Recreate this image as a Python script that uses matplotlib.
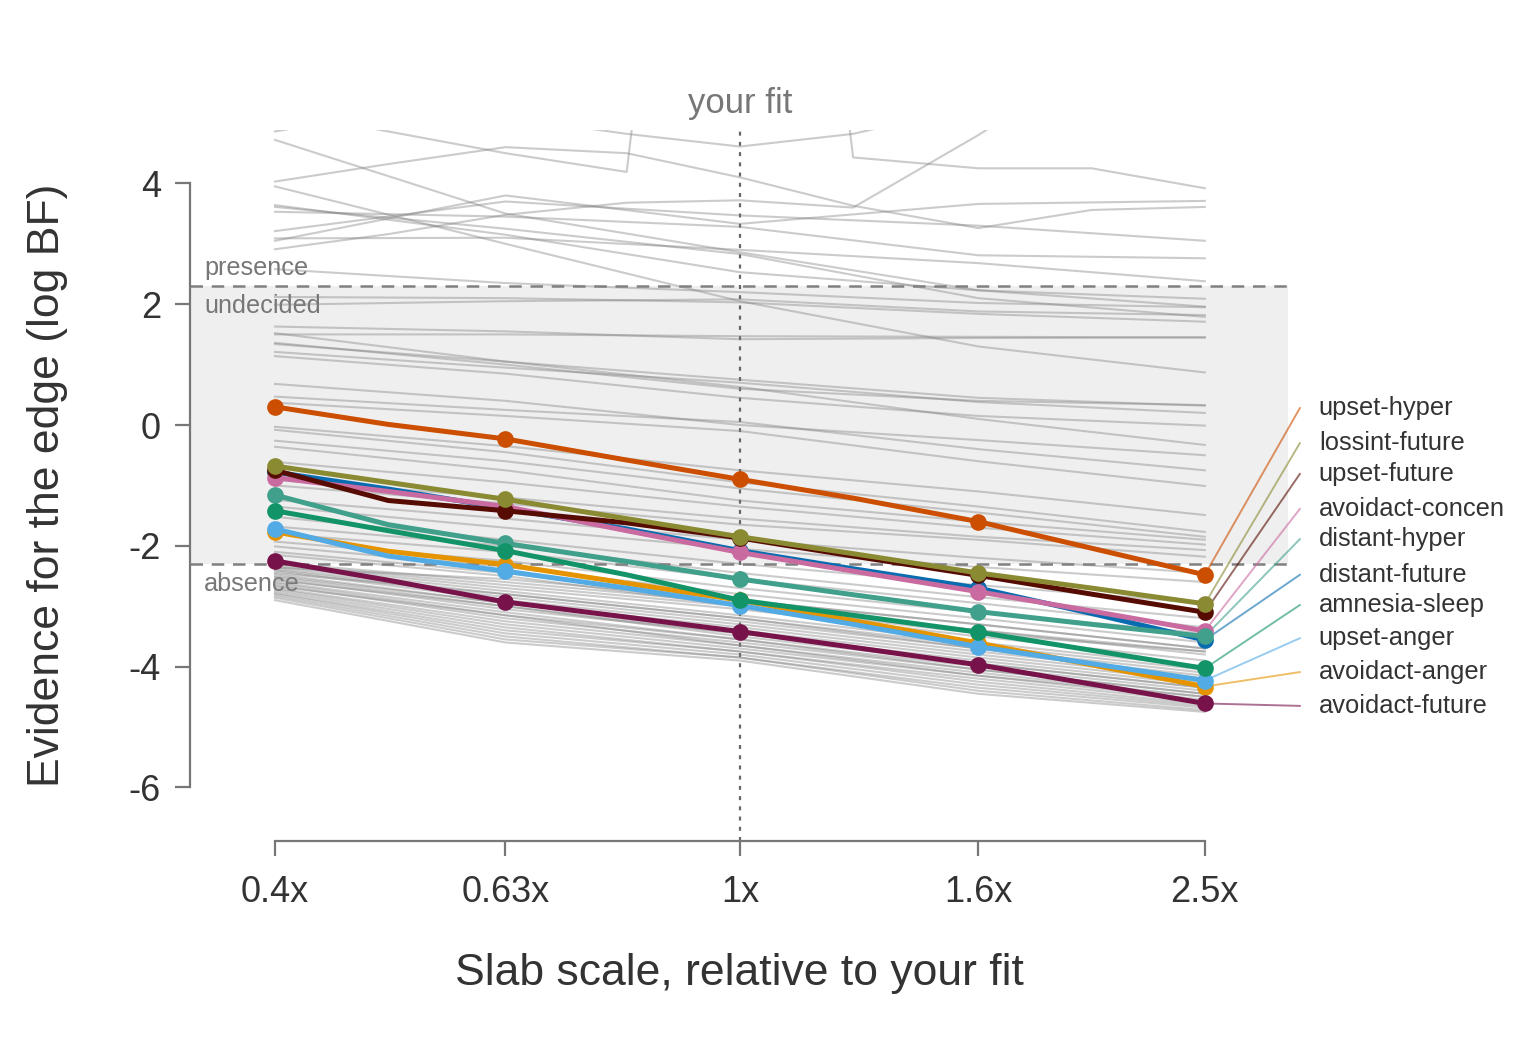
#!/usr/bin/env python3
"""Slab-scale sensitivity of the edge evidence (log BF), highlighted edges labelled."""
import matplotlib
matplotlib.use("Agg")
import matplotlib.pyplot as plt  # noqa: E402
import numpy as np  # noqa: E402
from matplotlib.ticker import FixedLocator, NullLocator  # noqa: E402

plt.rcParams["font.family"] = ["Liberation Sans", "DejaVu Sans"]
plt.rcParams["axes.unicode_minus"] = False

# -- data -------------------------------------------------------------------
TICK_SCALES = [0.4, 0.63, 1.0, 1.6, 2.5]
TICK_LABELS = ["0.4x", "0.63x", "1x", "1.6x", "2.5x"]
FINE_SCALES = [0.4, 0.5, 0.63, 0.8, 1.0, 1.25, 1.6, 2.0, 2.5]

# background edges, log BF at the five tick scales
GRAY_EDGES = [
    # above the presence threshold at 0.4x
    [4.86, 5.50, 5.90, 6.00, 6.00],
    [4.72, 3.50, 2.86, 2.23, 1.96],
    [3.95, 3.00, 2.05, 1.30, 0.87],
    [3.64, 3.15, 2.53, 2.23, 2.09],
    [3.61, 3.25, 2.83, 2.10, 1.79],
    [3.53, 3.45, 3.28, 2.81, 2.76],
    [3.21, 3.70, 3.47, 3.30, 3.05],
    [3.09, 3.10, 2.90, 2.68, 2.38],
    [3.05, 3.80, 3.33, 3.66, 3.71],
    [2.58, 2.35, 2.20, 2.02, 1.95],
    # undecided band
    [2.12, 2.10, 2.03, 1.84, 1.71],
    [1.99, 2.05, 2.08, 1.88, 1.82],
    [1.63, 1.55, 1.42, 1.44, 1.45],
    [1.50, 1.50, 1.47, 1.46, 1.45],
    [1.52, 1.05, 0.63, 0.10, -0.33],
    [1.36, 1.00, 0.60, 0.40, 0.33],
    [1.34, 1.05, 0.75, 0.45, 0.32],
    [1.21, 0.95, 0.70, 0.38, 0.20],
    [1.14, 0.85, 0.45, 0.15, -0.01],
    [0.68, 0.40, 0.00, -0.25, -0.50],
    [0.47, 0.25, 0.05, -0.40, -0.75],
    [0.37, 0.15, -0.10, -0.60, -1.01],
    [-0.03, -0.35, -0.75, -1.10, -1.49],
    [-0.08, -0.45, -0.95, -1.35, -1.77],
    [-0.26, -0.60, -1.05, -1.45, -1.85],
    [-0.36, -0.75, -1.25, -1.60, -1.90],
    [-0.61, -0.95, -1.35, -1.70, -1.98],
    [-0.91, -1.20, -1.55, -1.85, -2.07],
    [-1.00, -1.30, -1.65, -1.90, -2.18],
    [-1.24, -1.55, -1.90, -2.20, -2.45],
    [-1.35, -1.70, -2.05, -2.35, -2.60],
    [-1.52, -1.90, -2.30, -2.65, -2.95],
    [-1.68, -2.00, -2.45, -2.85, -3.20],
    [-1.80, -2.10, -2.55, -2.95, -3.35],
    [-1.93, -2.25, -2.70, -3.10, -3.45],
    [-2.01, -2.35, -2.80, -3.20, -3.60],
    [-2.10, -2.45, -2.90, -3.30, -3.70],
    [-2.15, -2.50, -3.00, -3.40, -3.75],
    # absence cluster
    [-2.28, -2.60, -2.95, -3.40, -3.80],
    [-2.30, -2.65, -3.00, -3.45, -3.75],
    [-2.32, -2.70, -3.05, -3.50, -3.90],
    [-2.35, -2.75, -3.15, -3.60, -4.00],
    [-2.36, -2.55, -2.90, -3.30, -3.70],
    [-2.38, -2.80, -3.20, -3.65, -4.05],
    [-2.40, -2.85, -3.25, -3.70, -4.10],
    [-2.42, -2.90, -3.30, -3.75, -4.15],
    [-2.45, -2.80, -3.20, -3.70, -4.20],
    [-2.47, -2.95, -3.35, -3.80, -4.20],
    [-2.50, -2.95, -3.40, -3.85, -4.25],
    [-2.52, -3.00, -3.45, -3.90, -4.30],
    [-2.55, -3.05, -3.45, -3.95, -4.35],
    [-2.57, -3.00, -3.50, -3.95, -4.35],
    [-2.60, -3.10, -3.55, -4.00, -4.40],
    [-2.62, -3.15, -3.55, -4.05, -4.45],
    [-2.65, -3.20, -3.60, -4.05, -4.45],
    [-2.67, -3.15, -3.65, -4.10, -4.50],
    [-2.70, -3.25, -3.65, -4.15, -4.50],
    [-2.72, -3.30, -3.70, -4.15, -4.55],
    [-2.75, -3.35, -3.75, -4.20, -4.58],
    [-2.78, -3.40, -3.75, -4.25, -4.62],
    [-2.80, -3.45, -3.80, -4.30, -4.65],
    [-2.83, -3.50, -3.85, -4.35, -4.68],
    [-2.86, -3.55, -3.85, -4.40, -4.72],
    [-2.90, -3.60, -3.90, -4.45, -4.75],
]

# background edges with kinks near the top, sampled on FINE_SCALES
GRAY_TOP_EDGES = [
    [5.60, 5.40, 5.10, 4.82, 4.61, 4.82, 5.30, 5.60, 5.80],
    [5.20, 4.86, 4.50, 4.19, 20.0, 4.43, 4.25, 4.25, 3.92],
    [4.03, 4.32, 4.60, 4.50, 4.10, 3.63, 3.26, 3.56, 3.61],
    [2.91, 3.16, 3.48, 3.68, 3.72, 3.60, 4.80, 6.00, 6.50],
]

# highlighted edges, sampled on FINE_SCALES
UPSET_HYPER = [0.30, 0.01, -0.23, -0.58, -0.90, -1.21, -1.60, -2.04, -2.48]
LOSSINT_FUTURE = [-0.68, -0.95, -1.23, -1.55, -1.85, -2.13, -2.45, -2.70, -2.96]
UPSET_FUTURE = [-0.75, -1.25, -1.42, -1.62, -1.87, -2.17, -2.49, -2.80, -3.10]
AVOIDACT_CONCEN = [-0.87, -1.10, -1.35, -1.75, -2.11, -2.42, -2.76, -3.08, -3.41]
DISTANT_HYPER = [-1.16, -1.65, -1.96, -2.26, -2.55, -2.81, -3.09, -3.30, -3.50]
DISTANT_FUTURE = [-0.78, -1.06, -1.38, -1.72, -2.08, -2.38, -2.70, -3.12, -3.56]
AMNESIA_SLEEP = [-1.42, -1.75, -2.08, -2.48, -2.90, -3.15, -3.43, -3.73, -4.03]
UPSET_ANGER = [-1.72, -2.17, -2.42, -2.70, -2.99, -3.30, -3.67, -3.95, -4.23]
AVOIDACT_ANGER = [-1.77, -2.09, -2.31, -2.62, -2.90, -3.24, -3.61, -3.97, -4.33]
AVOIDACT_FUTURE = [-2.25, -2.57, -2.93, -3.18, -3.42, -3.68, -3.97, -4.29, -4.61]

LABEL_NAMES = ["upset-hyper", "lossint-future", "upset-future", "avoidact-concen",
               "distant-hyper", "distant-future", "amnesia-sleep", "upset-anger",
               "avoidact-anger", "avoidact-future"]
LABEL_Y = [0.28, -0.30, -0.81, -1.39, -1.89, -2.48, -2.98, -3.53, -4.09, -4.65]

COLORS = {
    "upset-hyper": "#CC4E00",
    "lossint-future": "#8A8A33",
    "upset-future": "#560C02",
    "avoidact-concen": "#C96AA0",
    "distant-hyper": "#40A08C",
    "distant-future": "#0A6CB0",
    "amnesia-sleep": "#139468",
    "upset-anger": "#52ABE4",
    "avoidact-anger": "#E59400",
    "avoidact-future": "#77124A",
}

# bottom-to-top drawing order
HIGHLIGHT = [
    ("distant-future", DISTANT_FUTURE),
    ("avoidact-concen", AVOIDACT_CONCEN),
    ("distant-hyper", DISTANT_HYPER),
    ("upset-future", UPSET_FUTURE),
    ("lossint-future", LOSSINT_FUTURE),
    ("avoidact-anger", AVOIDACT_ANGER),
    ("upset-anger", UPSET_ANGER),
    ("amnesia-sleep", AMNESIA_SLEEP),
    ("avoidact-future", AVOIDACT_FUTURE),
    ("upset-hyper", UPSET_HYPER),
]

BF_CUT = np.log(10)  # |log BF| > log 10 -> decided
GREY_TXT = "#777777"
DARK_TXT = "#333333"


def main():
    fig = plt.figure(figsize=(7.68, 5.28), dpi=200)
    ax = fig.add_axes([0.1237, 0.2036, 0.7148, 0.6733])
    ax.set_xscale("log")
    ax.set_xlim(0.3383, 2.945)
    ax.set_ylim(-6.887, 4.884)

    # undecided band + thresholds + "your fit" marker
    ax.axhspan(-BF_CUT, BF_CUT, color="#efefef", lw=0, zorder=0)
    for y in (BF_CUT, -BF_CUT):
        ax.axhline(y, color="#808080", lw=0.9, ls=(0, (5, 3.5)), zorder=2.5)
    ax.axvline(1.0, color="#666666", lw=0.8, ls=(0, (1.8, 2.8)), zorder=1.5)
    ax.annotate("your fit", xy=(1.0, 1.0), xycoords=("data", "axes fraction"),
                xytext=(0, 3.5), textcoords="offset points", ha="center",
                va="bottom", fontsize=12.5, color=GREY_TXT)

    for txt, y in (("presence", 2.60), ("undecided", 1.97), ("absence", -2.63)):
        ax.text(0.0128, y, txt, transform=ax.get_yaxis_transform(),
                ha="left", va="center", fontsize=9.1, color=GREY_TXT, zorder=1.2)

    # background edges
    for vals in GRAY_EDGES:
        ax.plot(TICK_SCALES, vals, color="#7f7f7f", alpha=0.4, lw=0.75, zorder=2)
    for vals in GRAY_TOP_EDGES:
        ax.plot(FINE_SCALES, vals, color="#7f7f7f", alpha=0.4, lw=0.75, zorder=2)

    # highlighted edges with points at the tick scales
    for name, vals in HIGHLIGHT:
        ax.plot(FINE_SCALES, vals, color=COLORS[name], lw=1.8, marker="o",
                ms=5, markevery=[0, 2, 4, 6, 8], zorder=3,
                solid_joinstyle="round")

    # right-hand labels with connectors
    ends = {name: vals[-1] for name, vals in HIGHLIGHT}
    for name, ly in zip(LABEL_NAMES, LABEL_Y):
        ax.plot([2.5, 3.015], [ends[name], ly], color=COLORS[name], alpha=0.6,
                lw=0.7, clip_on=False, zorder=2.8)
        ax.text(3.13, ly, name, ha="left", va="center", fontsize=9.2,
                color=DARK_TXT, clip_on=False)

    # axes cosmetics
    for side in ("top", "right"):
        ax.spines[side].set_visible(False)
    for side in ("left", "bottom"):
        ax.spines[side].set_color("#777777")
        ax.spines[side].set_linewidth(0.8)
    ax.spines["left"].set_bounds(-6, 4)
    ax.spines["bottom"].set_bounds(0.4, 2.5)

    ax.xaxis.set_major_locator(FixedLocator(TICK_SCALES))
    ax.xaxis.set_minor_locator(NullLocator())
    ax.set_xticklabels(TICK_LABELS)
    ax.set_yticks([-6, -4, -2, 0, 2, 4])
    ax.tick_params(axis="both", colors="#777777", labelcolor=DARK_TXT,
                   labelsize=13, length=5.4, width=0.8)
    ax.tick_params(axis="x", pad=7)
    ax.tick_params(axis="y", pad=5)

    ax.set_xlabel("Slab scale, relative to your fit", fontsize=16,
                  color=DARK_TXT, labelpad=15.5)
    ax.set_ylabel("Evidence for the edge (log BF)", fontsize=16,
                  color=DARK_TXT, labelpad=22)

    fig.savefig("out.png", dpi=200)
    plt.close(fig)


if __name__ == "__main__":
    main()
